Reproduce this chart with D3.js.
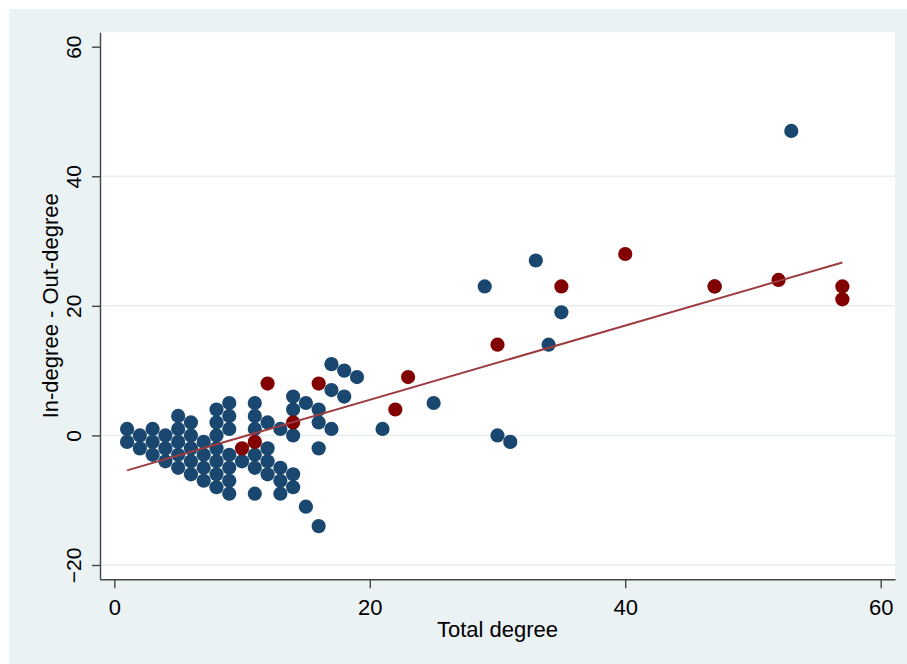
<!DOCTYPE html>
<html>
<head>
<meta charset="utf-8">
<script src="https://cdn.jsdelivr.net/npm/d3@7/dist/d3.min.js"></script>
<style>
  body { margin: 0; background: #fff; }
  text { font-family: "Liberation Sans", Arial, sans-serif; fill: #000; }
</style>
</head>
<body>
<div id="chart"></div>
<script>
// [total degree, in-degree - out-degree]
const bluePoints = [
  [1, 1], [1, -1],
  [2, 0], [2, -2],
  [3, 1], [3, -1], [3, -3],
  [4, 0], [4, -2], [4, -4],
  [5, 3], [5, 1], [5, -1], [5, -3], [5, -5],
  [6, 2], [6, 0], [6, -2], [6, -4], [6, -6],
  [7, -1], [7, -3], [7, -5], [7, -7],
  [8, 4], [8, 2], [8, 0], [8, -2], [8, -4], [8, -6], [8, -8],
  [9, 5], [9, 3], [9, 1], [9, -3], [9, -5], [9, -7], [9, -9],
  [10, -4],
  [11, 5], [11, 3], [11, 1], [11, -3], [11, -5], [11, -9],
  [12, 2], [12, -2], [12, -4], [12, -6],
  [13, 1], [13, -5], [13, -7], [13, -9],
  [14, 6], [14, 4], [14, 0], [14, -6], [14, -8],
  [15, 5], [15, -11],
  [16, 4], [16, 2], [16, -2], [16, -14],
  [17, 11], [17, 7], [17, 1],
  [18, 10], [18, 6],
  [19, 9],
  [21, 1], [25, 5], [29, 23], [30, 0], [31, -1],
  [33, 27], [34, 14], [35, 19], [47, 23], [53, 47]
];

const redPoints = [
  [10, -2], [11, -1], [12, 8], [14, 2], [16, 8],
  [22, 4], [23, 9], [30, 14], [35, 23], [40, 28],
  [47, 23], [52, 24], [57, 23], [57, 21]
];

// fitted line, read at its two ends
const fitLine = [[1, -5.4], [57, 26.7]];

const xTicks = [0, 20, 40, 60];
const yTicks = [-20, 0, 20, 40, 60];
const yGrid = [-20, 0, 20, 40];

const margin = { top: 32.3, right: 12, bottom: 84.7, left: 100 },
  width = 907 - margin.left - margin.right,
  height = 664 - margin.top - margin.bottom;

const root = d3.select("#chart")
  .append("svg")
  .attr("width", 907)
  .attr("height", 664);

root.append("rect")
  .attr("x", 9)
  .attr("y", 9)
  .attr("width", 898)
  .attr("height", 655)
  .attr("fill", "#eaf2f3");

const svg = root.append("g")
  .attr("transform", `translate(${margin.left},${margin.top})`);

svg.append("rect")
  .attr("width", width)
  .attr("height", height)
  .attr("fill", "#fff");

const x = d3.scaleLinear()
  .domain([-1.12, 61.12])
  .range([0, width]);

const y = d3.scaleLinear()
  .domain([-22.21, 62.22])
  .range([height, 0]);

// grid
svg.selectAll(".grid")
  .data(yGrid)
  .join("line")
  .attr("x1", 0)
  .attr("x2", width)
  .attr("y1", d => y(d))
  .attr("y2", d => y(d))
  .attr("stroke", "#e6eef0")
  .attr("stroke-width", 1.5);

// axes
const yAxis = svg.append("g")
  .call(d3.axisLeft(y).tickValues(yTicks).tickSize(8).tickSizeOuter(0).tickFormat(d3.format("d")));

yAxis.selectAll("text")
  .attr("x", 0)
  .attr("y", 0)
  .attr("dy", 0)
  .attr("text-anchor", "middle")
  .attr("transform", "translate(-19.5,0) rotate(-90)")
  .style("font-size", "21px");

const xAxis = svg.append("g")
  .attr("transform", `translate(0,${height})`)
  .call(d3.axisBottom(x).tickValues(xTicks).tickSize(9).tickSizeOuter(0));

xAxis.selectAll("text")
  .attr("y", 35.7)
  .attr("dy", 0)
  .style("font-size", "22px");

svg.selectAll(".domain, .tick line")
  .attr("stroke", "#444")
  .attr("stroke-width", 1.4);

svg.selectAll(".tick text").attr("fill", "#000").attr("font-family", null);

// titles
svg.append("text")
  .attr("x", width / 2)
  .attr("y", height + 57.4)
  .attr("text-anchor", "middle")
  .style("font-size", "22px")
  .text("Total degree");

svg.append("text")
  .attr("transform", `translate(${58 - margin.left},${height / 2}) rotate(-90)`)
  .attr("text-anchor", "middle")
  .style("font-size", "22px")
  .text("In-degree - Out-degree");

// points
svg.selectAll(".blue")
  .data(bluePoints)
  .join("circle")
  .attr("cx", d => x(d[0]))
  .attr("cy", d => y(d[1]))
  .attr("r", 7.1)
  .attr("fill", "#1a476f");

svg.selectAll(".red")
  .data(redPoints)
  .join("circle")
  .attr("cx", d => x(d[0]))
  .attr("cy", d => y(d[1]))
  .attr("r", 7.1)
  .attr("fill", "#820000");

const line = d3.line()
  .x(d => x(d[0]))
  .y(d => y(d[1]));

svg.append("path")
  .datum(fitLine)
  .attr("fill", "none")
  .attr("stroke", "#9c3c40")
  .attr("stroke-width", 2)
  .attr("d", line);
</script>
</body>
</html>
